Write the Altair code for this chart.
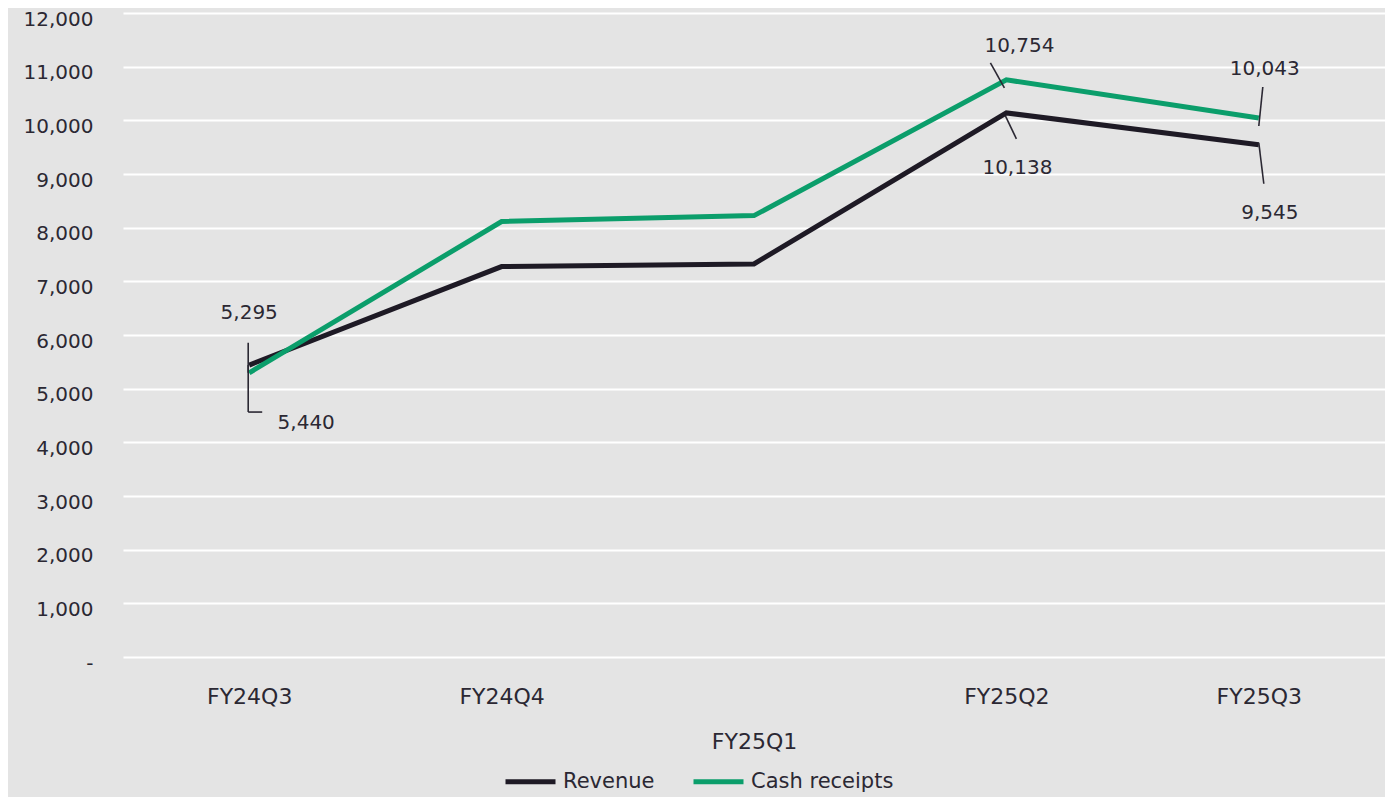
import altair as alt
import pandas as pd

quarters = ["FY24Q3", "FY24Q4", "FY25Q1", "FY25Q2", "FY25Q3"]
revenue = [5440, 7275, 7325, 10138, 9545]
cash_receipts = [5295, 8115, 8225, 10754, 10043]
series_names = ["Revenue", "Cash receipts"]
series_colors = ["#1e1a25", "#0b9e6b"]

# labelled points: (series, quarter index)
labelled = [("Cash receipts", 0), ("Revenue", 0), ("Cash receipts", 3),
            ("Revenue", 3), ("Cash receipts", 4), ("Revenue", 4)]
# label offsets (dx, dy) and leader segments in pixels relative to point
label_offsets = [(0, -60), (57, 58), (13, -34), (11, 55), (6, -49), (11, 68)]
leaders = [
    [(-1, -30, -1, 0)],
    [(-1, 0, -1, 47), (-1, 47, 13, 47)],
    [(-16, -17, -2, 8)],
    [(-1, 3, 10, 26)],
    [(4, -31, 0, 8)],
    [(0, -2, 5, 39)],
]

rows = []
for q, r, c in zip(quarters, revenue, cash_receipts):
    rows.append({"quarter": q, "series": "Revenue", "value": r})
    rows.append({"quarter": q, "series": "Cash receipts", "value": c})
df = pd.DataFrame(rows)

FONT = "DejaVu Sans"
TXT = "#2b2833"

x_enc = alt.X(
    "quarter:N", sort=quarters,
    scale=alt.Scale(type="point", padding=0.5),
    axis=alt.Axis(
        title=None, domain=False, ticks=False, grid=False,
        labelFont=FONT, labelFontSize=22, labelColor=TXT,
        labelAngle=0,
        labelPadding={"condition": {"test": "datum.value === 'FY25Q1'", "value": 74}, "value": 29},
    ),
)
y_enc = alt.Y(
    "value:Q",
    scale=alt.Scale(domain=[0, 12000], nice=False),
    axis=alt.Axis(
        title=None, domain=False, ticks=False, grid=True,
        gridColor="white", gridWidth=2,
        values=list(range(0, 12001, 1000)),
        labelExpr="datum.value == 0 ? '-' : format(datum.value, ',')",
        labelFont=FONT, labelFontSize=20, labelColor=TXT, labelPadding=30,
        labelOffset=6,
    ),
)
color_enc = alt.Color(
    "series:N",
    scale=alt.Scale(domain=series_names, range=series_colors),
    legend=alt.Legend(
        title=None, orient="none", legendX=380, legendY=741,
        direction="horizontal", symbolType="stroke", symbolStrokeWidth=5,
        symbolSize=2500, labelFont=FONT, labelFontSize=21, labelColor=TXT,
        columnPadding=28, labelOffset=5,
    ),
)

layers = []
for s in series_names:
    layers.append(
        alt.Chart(df).transform_filter(alt.datum.series == s)
        .mark_line(strokeWidth=5, strokeJoin="miter")
        .encode(x=x_enc, y=y_enc, color=color_enc)
    )

for (s, i), (dx, dy), segs in zip(labelled, label_offsets, leaders):
    val = revenue[i] if s == "Revenue" else cash_receipts[i]
    pt = pd.DataFrame([{"quarter": quarters[i], "value": val, "label": f"{val:,}"}])
    layers.append(
        alt.Chart(pt).mark_text(dx=dx, dy=dy, font=FONT, fontSize=20, color=TXT,
                                align="center", baseline="middle")
        .encode(x=alt.X("quarter:N", sort=quarters), y="value:Q", text="label:N")
    )
    for (x1, y1, x2, y2) in segs:
        layers.append(
            alt.Chart(pt).mark_rule(color=TXT, strokeWidth=1.6,
                                    xOffset=x1, yOffset=y1, x2Offset=x2, y2Offset=y2)
            .encode(x=alt.X("quarter:N", sort=quarters), y="value:Q",
                    x2="quarter:N", y2="value:Q")
        )

chart = alt.layer(*layers).properties(
    width=1262, height=644,
    autosize=alt.AutoSizeParams(type="none"),
    padding={"left": 115, "top": 5, "right": 0, "bottom": 140},
    background="#e4e4e4",
).configure_view(stroke=None)

chart.save("out.html", embed_options={"renderer": "svg", "actions": False})
